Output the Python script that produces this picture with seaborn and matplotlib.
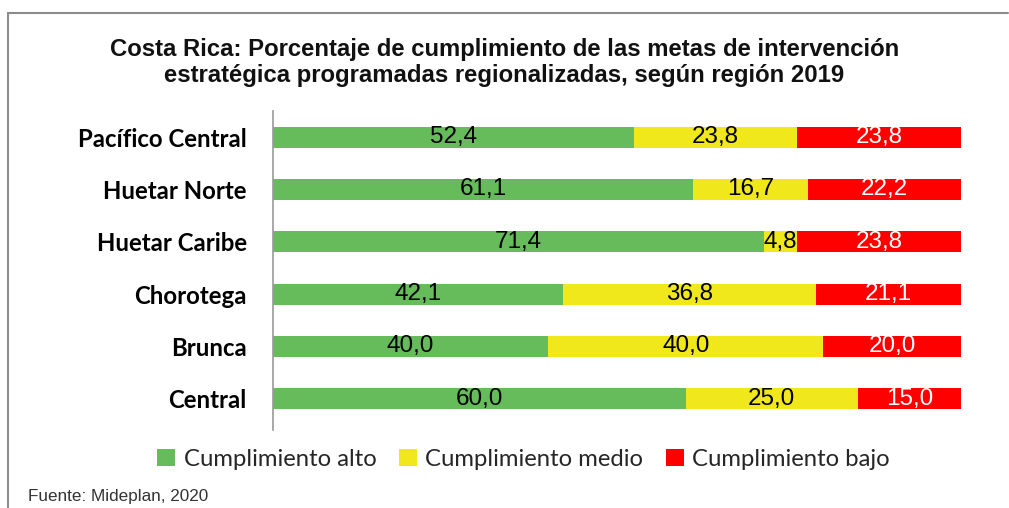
import numpy as np
import pandas as pd
import matplotlib.pyplot as plt
import seaborn as sns
from matplotlib.lines import Line2D
from matplotlib.patches import Patch

regions = ['Pacífico Central', 'Huetar Norte', 'Huetar Caribe', 'Chorotega', 'Brunca', 'Central']
alto = [52.4, 61.1, 71.4, 42.1, 40.0, 60.0]
medio = [23.8, 16.7, 4.8, 36.8, 40.0, 25.0]
bajo = [23.8, 22.2, 23.8, 21.1, 20.0, 15.0]
series = ['Cumplimiento alto', 'Cumplimiento medio', 'Cumplimiento bajo']
colors = ['#66BB5A', '#F0E81A', '#FF0000']

df = pd.DataFrame({'region': regions, 'alto': alto, 'medio': medio, 'bajo': bajo})
df['c1'] = df['alto']
df['c2'] = df['alto'] + df['medio']
df['c3'] = df['c2'] + df['bajo']

sns.set_style('white')

fig = plt.figure(figsize=(10.09, 5.08), dpi=100)
ax = fig.add_axes([0.2706, 0.1535, 0.6818, 0.628])

# stacked bars drawn back to front
for col, c in zip(['c3', 'c2', 'c1'], colors[::-1]):
    sns.barplot(data=df, x=col, y='region', color=c, width=0.4, orient='h',
                ax=ax, saturation=1, linewidth=0)

ax.set_xlim(0, 100)
ax.set_ylim(5.6, -0.5)
ax.set_xlabel('')
ax.set_ylabel('')
ax.set_xticks([])
for s in ['top', 'right', 'bottom']:
    ax.spines[s].set_visible(False)
ax.spines['left'].set_color('#999999')
ax.spines['left'].set_linewidth(1.2)
ax.tick_params(axis='y', length=0, pad=19)
for lab in ax.get_yticklabels():
    lab.set_fontfamily('Lato')
    lab.set_fontweight('bold')
    lab.set_fontsize(17.3)
    lab.set_color('black')

def fmt(v):
    return f'{v:.1f}'.replace('.', ',')

for i in range(len(regions)):
    starts = [0, df['c1'][i], df['c2'][i]]
    vals = [alto[i], medio[i], bajo[i]]
    for j, (s, v) in enumerate(zip(starts, vals)):
        x = s + v / 2
        ax.text(x, i, fmt(v), ha='center', va='center', fontsize=17.5,
                family='Liberation Sans', color='white' if j == 2 else 'black')

fig.text(0.5, 0.877, 'Costa Rica: Porcentaje de cumplimiento de las metas de intervención\n'
         'estratégica programadas regionalizadas, según región 2019',
         ha='center', va='center', fontsize=17.2, fontweight='bold',
         family='Liberation Sans', linespacing=1.2, color='#111111')

handles = [Patch(facecolor=c, edgecolor='none') for c in colors]
fig.legend(handles, series, loc='center', bbox_to_anchor=(0.519, 0.096), ncol=3,
           frameon=False, prop={'family': 'Lato', 'size': 17.2},
           handlelength=0.75, handleheight=0.75, handletextpad=0.35, columnspacing=0.95)

fig.text(0.028, 0.022, 'Fuente: Mideplan, 2020', ha='left', va='center',
         fontsize=12.3, family='Liberation Sans', color='#333333')

# outer frame (left and top)
fig.add_artist(Line2D([0.008, 0.008], [0.0, 0.974], color='#8c8c8c', lw=1.5))
fig.add_artist(Line2D([0.008, 0.999], [0.974, 0.974], color='#8c8c8c', lw=1.5))

fig.savefig('out.png', dpi=100)
